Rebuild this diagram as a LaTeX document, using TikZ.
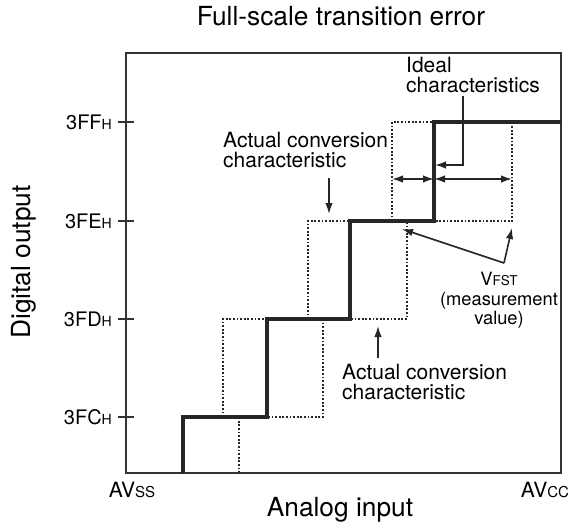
\documentclass[tikz,border=0pt]{standalone}
\usepackage{fontspec}
\setmainfont{TeX Gyre Heros}
\usepackage{tikz}
\usetikzlibrary{arrows.meta,positioning,calc}

\newcommand{\smalltxt}[1]{{\fontsize{14}{14}\selectfont #1}}

\tikzset{
  frame/.style={line width=1.6pt, black!80},
  stair/.style={line width=3.2pt, black!85},
  ideal/.style={line width=1.4pt, black!85, dash pattern=on 1.8pt off 1.8pt},
  pointer/.style={line width=1.6pt, black!85, -{Latex[length=11pt,width=7.5pt]}},
  dimline/.style={line width=1.6pt, black!85, {Latex[length=11pt,width=7.5pt]}-{Latex[length=11pt,width=7.5pt]}},
  lbl/.style={inner sep=0pt, align=left, font=\fontsize{21}{20}\selectfont},
  bigtxt/.style={inner sep=0pt, font=\fontsize{26.3}{26.3}\selectfont},
  ticktxt/.style={inner sep=0pt, anchor=east, font=\fontsize{20}{20}\selectfont}
}

\begin{document}
\begin{tikzpicture}[x=1pt,y=-1pt]
\useasboundingbox (0,0) rectangle (575,527);

\node[bigtxt] (title) at (341,16) {Full-scale transition error};
\node[bigtxt] (xlab) at (340,510) {Analog input};
\node[bigtxt, rotate=90] (ylab) at (24,262) {Digital output};
\node[inner sep=0pt, font=\fontsize{21}{21}\selectfont] (avss) at (132,490) {AV{\fontsize{15}{15}\selectfont SS}};
\node[inner sep=0pt, font=\fontsize{21}{21}\selectfont] (avcc) at (545,490) {AV{\fontsize{15}{15}\selectfont CC}};

\draw[frame] (126,53) rectangle (561,473);
\foreach \lv/\yy in {C/417,D/319,E/221,F/122} {
  \draw[frame] (118,\yy) -- (134,\yy);
  \node[ticktxt] (tick\lv) at (112,\yy) {3F\lv\smalltxt{H}};
}

% ideal characteristics (dotted)
\draw[ideal] (239,473) -- (239,417);
\draw[ideal] (223,417) rectangle (323,319);
\draw[ideal] (308,319) rectangle (407,221);
\draw[ideal] (392,221) rectangle (512,122);

% actual conversion characteristic
\draw[stair] (183,473) |- (267,417) |- (350,319) |- (434,221) |- (561,122);

% labels
\node[lbl, anchor=north west] (ideallab) at (406,57) {Ideal\\characteristics};
\node[lbl, anchor=north west] (actup) at (223,132) {Actual conversion\\characteristic};
\node[lbl, anchor=north west] (actlo) at (342,364) {Actual conversion\\characteristic};
\node[lbl, align=center, anchor=north, font=\fontsize{18.3}{19.5}\selectfont] (vfst) at (499,272)
  {V{\fontsize{13.5}{13.5}\selectfont FST}\\(measurement\\value)};

\coordinate (idfoot) at (463,96);
\coordinate (idtip) at (435,165);
\draw[pointer] (idfoot) |- (idtip);

\coordinate (upfoot) at (329,178);
\coordinate (uptip) at (329,214);
\draw[pointer] (upfoot) -- (uptip);

\coordinate (lofoot) at (378,358);
\coordinate (lotip) at (378,326);
\draw[pointer] (lofoot) -- (lotip);

\coordinate (vsrc) at (504,263);
\coordinate (vtipa) at (402,229);
\coordinate (vtipb) at (512,228);
\draw[pointer] (vsrc) -- (vtipa);
\draw[pointer] (vsrc) -- (vtipb);

\coordinate (dl) at (392,179);
\coordinate (dm) at (434,179);
\coordinate (dr) at (512,179);
\draw[dimline] (dl) -- (dm);
\draw[dimline] (dm) -- (dr);
\end{tikzpicture}
\end{document}
